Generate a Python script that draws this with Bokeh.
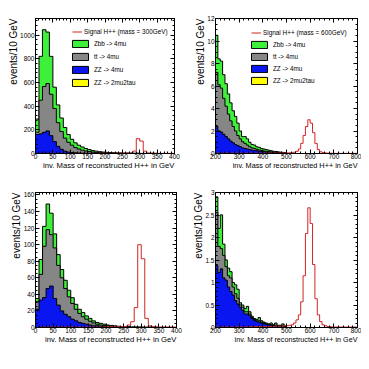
import numpy as np
from bokeh.plotting import figure
from bokeh.layouts import column, row
from bokeh.models import (Range1d, SingleIntervalTicker, LinearAxis, Title, Legend,
                          LegendItem, CustomJSTickFormatter)
from bokeh.embed import file_html
from bokeh.resources import INLINE

BIN = 10  # GeV per bin
X_LABEL = "inv. Mass of reconstructed H++ in GeV"
Y_LABEL = "events/10 GeV"
LEG_ZBB = "Zbb -> 4mu"
LEG_TT = "tt -> 4mu"
LEG_ZZ = "ZZ -> 4mu"
LEG_ZZ2 = "ZZ -> 2mu2tau"

# ---------- top-left: m(H++) = 300 GeV, x 0-400 ----------
tl_zz2 = [0.5, 0.5, 0.5, 0.5, 0.3, 0.2, 0.1, 0.1]
tl_zz = [160, 165, 178, 190, 150, 100, 60, 35, 20, 12, 8, 6, 4, 3, 2, 2, 1, 1, 1, 1,
         0.5, 0.5, 0.5, 0.3, 0.3, 0.2, 0.2, 0.1, 0.1, 0.1, 0, 0, 0, 0, 0, 0, 0, 0, 0, 0]
tl_tt = [20, 285, 387, 400, 350, 280, 200, 150, 110, 83, 62, 44, 34, 25, 19, 14, 11, 8, 6, 4,
         3.5, 2.5, 2.5, 1.7, 1.7, 0.8, 0.8, 0.9, 0.9, 0.9, 0, 0, 0, 0, 0, 0, 0, 0, 0, 0]
tl_zbb = [110, 370, 480, 435, 320, 180, 150, 115, 90, 65, 50, 40, 32, 27, 21, 17, 13, 11, 8, 7,
          6, 5, 3, 3, 2, 2, 2, 1, 1, 1, 1, 1, 1, 1, 1, 0, 0, 0, 0, 0]
tl_sig = [0, 0, 1, 1, 1, 1, 1, 1, 1, 1, 1, 1, 1, 1, 1, 1, 1, 1, 2, 2,
          2, 2, 2, 2, 3, 3, 4, 5, 20, 125, 105, 20, 4, 3, 2, 1, 1, 1, 1, 1]

# ---------- top-right: m(H++) = 600 GeV, x 200-800 ----------
tr_zz2 = [0.01, 0.01, 0.01, 0.005, 0.005]
tr_zz = [2.4, 2.0, 1.9, 1.7, 1.5, 1.3, 1.1, 0.95, 0.8, 0.7, 0.6, 0.5, 0.45, 0.4, 0.35,
         0.3, 0.28, 0.25, 0.2, 0.18, 0.15, 0.13, 0.11, 0.1, 0.09, 0.08, 0.06, 0.05, 0.04, 0.03]
tr_tt = [4.8, 4.1, 3.9, 3.2, 2.7, 2.2, 1.8, 1.45, 1.2, 0.9, 0.7, 0.55, 0.45, 0.35, 0.25,
         0.2, 0.17, 0.13, 0.12, 0.09, 0.07, 0.07, 0.06, 0.04, 0.03, 0.02, 0.02, 0.02, 0.02, 0.02]
tr_zbb = [3.3, 2.3, 2.4, 2.1, 2.0, 1.8, 1.6, 1.4, 1.3, 1.1, 0.7, 0.45, 0.6, 0.55, 0.4,
          0.3, 0.3, 0.22, 0.23, 0.18, 0.18, 0.15, 0.13, 0.11, 0.08, 0.08, 0.07, 0.05, 0.04, 0.03]
tr_sig = [0.02, 0.03, 0.02, 0.02, 0.03, 0.02, 0.02, 0.03, 0.02, 0.02,
          0.03, 0.02, 0.02, 0.03, 0.02, 0.03, 0.02, 0.03, 0.03, 0.02,
          0.03, 0.03, 0.03, 0.04, 0.03, 0.04, 0.04, 0.04, 0.05, 0.05,
          0.05, 0.06, 0.08, 0.12, 0.2, 0.4, 0.9, 1.6, 2.4, 3.0,
          2.7, 1.85, 0.9, 0.35, 0.15, 0.08, 0.05, 0.03, 0.02, 0.02,
          0.01, 0.01, 0.01, 0.01, 0.01, 0.01, 0.01, 0.01, 0.01, 0.01]

# ---------- bottom-left: m(H++) = 300 GeV after cuts, x 0-400 ----------
bl_zz2 = [0.1, 0.1, 0.1, 0.1, 0.05, 0.05]
bl_zz = [22, 33, 36, 47, 50, 35, 27, 20, 16, 13, 10, 8, 6, 5, 4, 3, 2, 2, 1.5, 1,
         1, 0.7, 0.5, 0.5, 0.4, 0.3, 0.3, 0.2, 0.2, 0.2, 0.1, 0.1, 0.1, 0.05, 0.05, 0, 0, 0, 0, 0]
bl_tt = [9, 31, 62, 71, 62, 61, 48, 40, 31, 24, 19, 14, 11, 8, 6, 4.5, 3.5, 2, 1.5, 1.5,
         1, 0.8, 0.7, 0.5, 0.3, 0.2, 0.2, 0.1, 0.1, 0.1, 0.1, 0.1, 0.1, 0.05, 0.05, 0, 0, 0, 0, 0]
bl_zbb = [4, 18, 24, 31, 26, 17, 13, 10, 10, 8, 7, 6, 5, 5, 4, 3.5, 2.5, 2, 2, 1.5,
          1, 1, 0.8, 0.5, 0.5, 0.5, 0.3, 0.3, 0.2, 0.2, 0.2, 0.1, 0.1, 0.1, 0.1, 0.1, 0.1, 0.1, 0, 0]
bl_sig = [0, 0.5, 0.5, 0.5, 0.5, 0.5, 0.5, 0.5, 0.5, 0.5, 0.5, 0.5, 0.5, 0.5, 0.5, 0.5, 0.5, 0.5, 0.5, 0.5,
          1, 1, 1, 1, 1, 1, 3, 7, 24, 100, 83, 11, 2, 1, 0.5, 0.5, 0.5, 0.5, 0.5, 0.5]

# ---------- bottom-right: m(H++) = 600 GeV after cuts, x 200-800 ----------
br_zz2 = [0.003, 0.003, 0.003, 0.002, 0.002]
br_zz = [1.38, 1.22, 1.3, 1.1, 1.05, 0.9, 0.8, 0.72, 0.6, 0.52, 0.45, 0.38, 0.3, 0.3, 0.26,
         0.2, 0.16, 0.13, 0.12, 0.1, 0.09, 0.07, 0.06, 0.05, 0.05, 0.04, 0.04, 0.03, 0.03, 0.02]
br_tt = [1.17, 0.58, 0.45, 0.5, 0.3, 0.25, 0.3, 0.18, 0.15, 0.13, 0.05, 0.07, 0.05, 0.05, 0.04,
         0.02, 0.02, 0.02, 0.03, 0.02, 0.01, 0.01, 0.01, 0.01, 0, 0.01, 0, 0.01, 0, 0.01]
br_zbb = [0.35, 0.4, 0.75, 0.25, 0.15, 0.17, 0.14, 0.1, 0.2, 0.2, 0.05, 0.05, 0.07, 0.12, 0.05,
          0.03, 0.02, 0.03, 0.07, 0.03, 0.02, 0.02, 0.01, 0.04, 0.01, 0.05, 0.01, 0.01, 0.05, 0.01]
br_sig = [0.01, 0.01, 0.01, 0.01, 0.01, 0.01, 0.01, 0.01, 0.01, 0.01,
          0.01, 0.01, 0.01, 0.01, 0.01, 0.02, 0.02, 0.02, 0.02, 0.02,
          0.02, 0.02, 0.02, 0.02, 0.02, 0.03, 0.03, 0.03, 0.03, 0.04,
          0.04, 0.05, 0.06, 0.1, 0.17, 0.28, 0.57, 1.15, 2.09, 2.66,
          2.31, 1.4, 0.64, 0.28, 0.13, 0.06, 0.04, 0.02, 0.02, 0.01,
          0.01, 0.01, 0.01, 0.01, 0.01, 0.01, 0.01, 0.01, 0.01, 0.01]

FONT = "Liberation Sans"
GREEN = "#3ef03a"
GRAY = "#868686"
BLUE = "#0a16f0"
YELLOW = "#ffff00"
RED = "#d42424"


def step_poly(x0, vals):
    vals = np.asarray(vals, dtype=float)
    edges = x0 + BIN * np.arange(len(vals) + 1)
    xs = np.concatenate([[edges[0]], np.repeat(edges, 2)[1:-1], [edges[-1]]])
    ys = np.concatenate([[0.0], np.repeat(vals, 2), [0.0]])
    return xs, ys


def pad_add(a, b):
    a = np.asarray(a, float)
    b = np.asarray(b, float)
    n = max(len(a), len(b))
    return np.pad(a, (0, n - len(a))) + np.pad(b, (0, n - len(b)))


def deco_axis(ticker):
    return LinearAxis(ticker=ticker, formatter=CustomJSTickFormatter(code="return '';"),
                      major_label_text_font_size="1px", major_label_standoff=0,
                      major_tick_in=4, major_tick_out=0, minor_tick_in=2, minor_tick_out=0,
                      axis_line_color="black")


def make_panel(x0, x1, ymax, xt, yt, zz2, zz, tt, zbb, sig, W, H, bl, br, bt, bb, lab):
    p = figure(width=W, height=H, x_range=Range1d(x0, x1), y_range=Range1d(0, ymax),
               output_backend="svg", toolbar_location=None,
               min_border_left=bl, min_border_right=br, min_border_top=bt, min_border_bottom=bb,
               outline_line_color="black", outline_line_width=1)
    p.grid.visible = False
    xtick = SingleIntervalTicker(interval=xt[0], num_minor_ticks=xt[1])
    ytick = SingleIntervalTicker(interval=yt[0], num_minor_ticks=yt[1])
    p.xaxis.ticker = xtick
    p.yaxis.ticker = ytick
    p.yaxis.formatter = CustomJSTickFormatter(code="return String(Math.round(tick*100)/100);")
    for ax in (p.xaxis[0], p.yaxis[0]):
        ax.major_tick_in = 4
        ax.major_tick_out = 0
        ax.minor_tick_in = 2
        ax.minor_tick_out = 0
        ax.major_label_text_font = FONT
        ax.major_label_text_font_size = "6.5px"
        ax.major_label_text_color = "black"
        ax.major_label_standoff = 1
        ax.axis_line_color = "black"
    p.xaxis.major_label_standoff = 0
    p.add_layout(deco_axis(xtick), "above")
    p.add_layout(deco_axis(ytick), "right")

    c0 = np.asarray(zz2, float)
    c1 = pad_add(c0, zz)
    c2 = pad_add(c1, tt)
    c3 = pad_add(c2, zbb)
    rs = {}
    for key, vals, col in (("zbb", c3, GREEN), ("tt", c2, GRAY), ("zz", c1, BLUE), ("zz2", c0, YELLOW)):
        xs, ys = step_poly(x0, vals)
        rs[key] = p.patch(xs, ys, fill_color=col, line_color="black", line_width=1)
    xs, ys = step_poly(x0, sig)
    rs["sig"] = p.line(xs, ys, line_color=RED, line_width=1)

    y_off, x_off, xfs = lab
    p.add_layout(Title(text=Y_LABEL, align="right", text_font=FONT, text_font_size="10px",
                       text_font_style="normal", text_color="black", standoff=-3,
                       offset=y_off), "left")
    p.add_layout(Title(text=X_LABEL, align="right", text_font=FONT, text_font_size=xfs,
                       text_font_style="normal", text_color="black", standoff=-5,
                       offset=x_off), "below")
    return p, rs


def add_legend(p, rs, mass, sig_loc, box_loc, spacing):
    common = dict(padding=0, margin=0, border_line_alpha=0, background_fill_alpha=0,
                  label_text_font=FONT, label_text_color="black",
                  label_height=9, label_width=10, glyph_height=9)
    leg1 = Legend(items=[LegendItem(label=f"Signal H++ (mass = {mass}GeV)", renderers=[rs["sig"]])],
                  location=sig_loc, glyph_width=10, label_standoff=2,
                  label_text_font_size="6.4px", **common)
    leg2 = Legend(items=[LegendItem(label=LEG_ZBB, renderers=[rs["zbb"]]),
                         LegendItem(label=LEG_TT, renderers=[rs["tt"]]),
                         LegendItem(label=LEG_ZZ, renderers=[rs["zz"]]),
                         LegendItem(label=LEG_ZZ2, renderers=[rs["zz2"]])],
                  location=box_loc, glyph_width=20, label_standoff=4, spacing=spacing,
                  label_text_font_size="6.3px", **common)
    p.add_layout(leg1)
    p.add_layout(leg2)


p1, r1 = make_panel(0, 400, 1140, (50, 5), (200, 5), tl_zz2, tl_zz, tl_tt, tl_zbb, tl_sig,
                    185, 183, 35, 11, 18, 29, (0, 0, "7.7px"))
add_legend(p1, r1, 300, (37, 117), (35, 66), 4)

p2, r2 = make_panel(200, 800, 12, (100, 5), (2, 4), tr_zz2, tr_zz, tr_tt, tr_zbb, tr_sig,
                    176, 183, 30, 4, 17, 30, (0, 0, "7.3px"))
add_legend(p2, r2, 600, (36, 116), (34, 68), 3)

p3, r3 = make_panel(0, 400, 163, (50, 5), (20, 4), bl_zz2, bl_zz, bl_tt, bl_zbb, bl_sig,
                    185, 170, 35, 9, 9, 25, (0, 0, "7.7px"))
p4, r4 = make_panel(200, 800, 3, (100, 5), (0.5, 5), br_zz2, br_zz, br_tt, br_zbb, br_sig,
                    176, 170, 30, 4, 7, 26, (0, 0, "7.2px"))

layout = column(row(p1, p2), row(p3, p4))
open("out.html", "w").write(file_html(layout, INLINE))
